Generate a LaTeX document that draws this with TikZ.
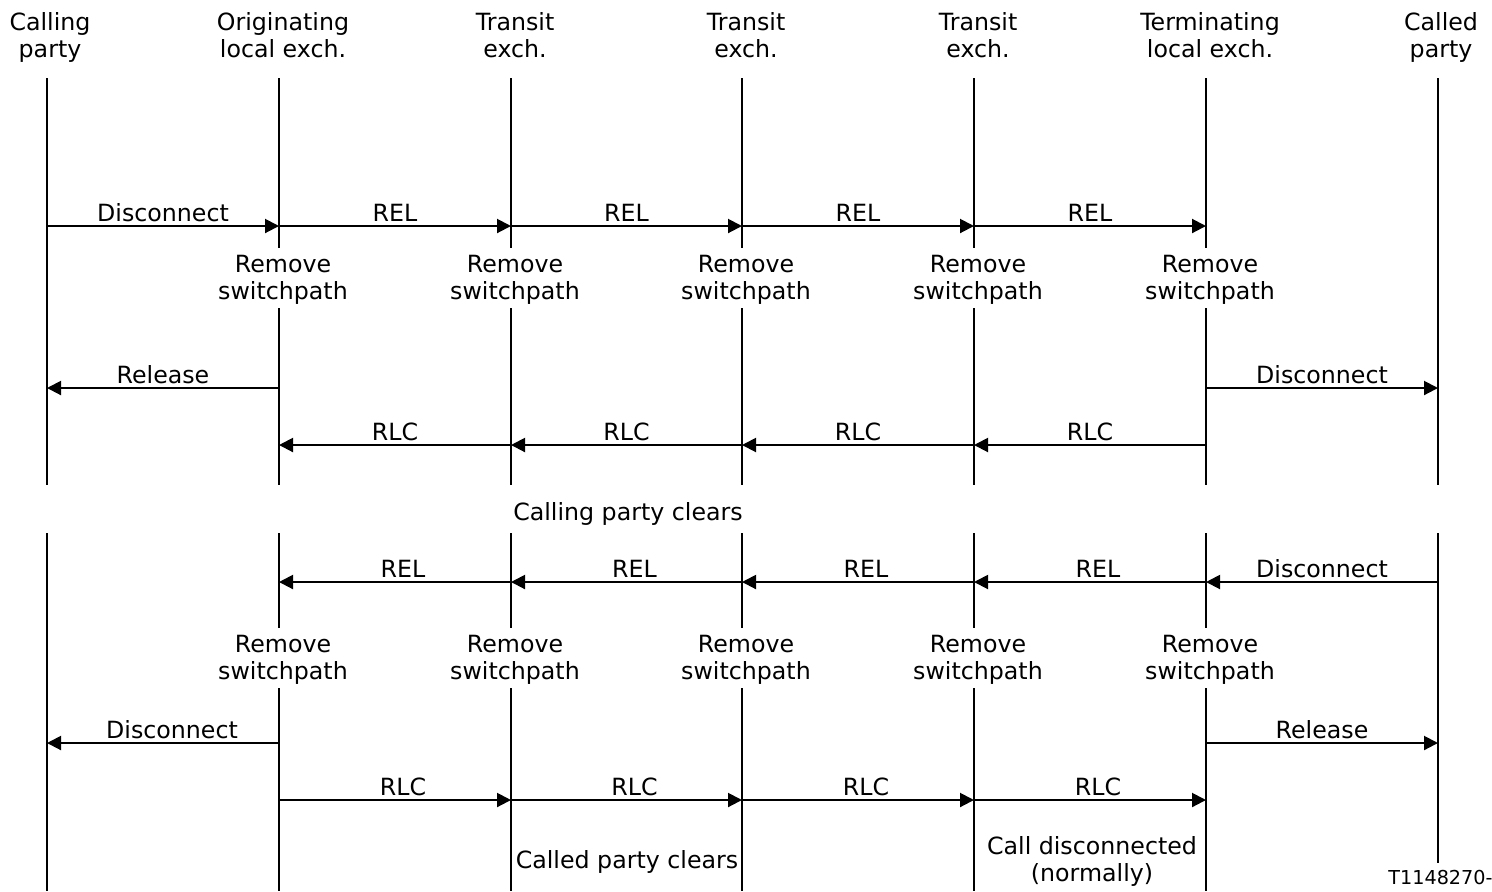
\documentclass[tikz,border=0pt]{standalone}
\usepackage{fontspec}
\setmainfont{DejaVu Sans}
\usetikzlibrary{arrows.meta}
\begin{document}
\begin{tikzpicture}[x=0.5pt,y=-0.5pt,
  life/.style={line width=1pt},
  msg/.style={line width=1pt,-{Triangle[length=7pt,width=7pt]}},
  txt/.style={font=\fontsize{11.85}{13.6}\selectfont,inner sep=0pt,align=center},
  lbl/.style={txt,anchor=base},
  msglbl/.style={txt,above=2.5pt,anchor=base},
  head/.style={txt,anchor=base},
  tag/.style={font=\fontsize{9.6}{11}\selectfont,inner sep=0pt,anchor=base west}]
\useasboundingbox (0,0) rectangle (1492,891);

% lifeline positions
\foreach \x [count=\i from 0] in {47,279,511,742,974,1206,1438}
  \coordinate (L\i) at (\x,0);
% message rows
\foreach \y [count=\j] in {226,388,445,582,743,800}
  \coordinate (r\j) at (0,\y);

% column headings
\node[head] (h0) at ([xshift=1.5pt]L0|-0,30) {Calling};
\node[head] (h0b) at ([xshift=1.5pt]L0|-0,57) {party};
\node[head] (h1) at ([xshift=2pt]L1|-0,30) {Originating};
\node[head] (h1b) at ([xshift=2pt]L1|-0,57) {local exch.};
\foreach \i in {2,3,4}{
  \node[head] (h\i) at ([xshift=2pt]L\i|-0,30) {Transit};
  \node[head] (h\i b) at ([xshift=2pt]L\i|-0,57) {exch.};
}
\node[head] (h5) at ([xshift=2pt]L5|-0,30) {Terminating};
\node[head] (h5b) at ([xshift=2pt]L5|-0,57) {local exch.};
\node[head] (h6) at ([xshift=1.5pt]L6|-0,30) {Called};
\node[head] (h6b) at ([xshift=1.5pt]L6|-0,57) {party};

% lifelines, upper part
\draw[life] (L0|-0,78) -- (L0|-0,485);
\draw[life] (L6|-0,78) -- (L6|-0,485);
\foreach \i in {1,...,5}{
  \draw[life] (L\i|-0,78) -- (L\i|-0,248);
  \draw[life] (L\i|-0,308) -- (L\i|-0,485);
  \node[lbl] (ru\i) at ([xshift=2pt]L\i|-0,272) {Remove};
  \node[lbl] (rv\i) at ([xshift=2pt]L\i|-0,299) {switchpath};
}
% lifelines, lower part
\draw[life] (L0|-0,533) -- (L0|-0,891);
\draw[life] (L6|-0,533) -- (L6|-0,863);
\foreach \i in {1,...,5}{
  \draw[life] (L\i|-0,533) -- (L\i|-0,628);
  \draw[life] (L\i|-0,688) -- (L\i|-0,891);
  \node[lbl] (rl\i) at ([xshift=2pt]L\i|-0,652) {Remove};
  \node[lbl] (rm\i) at ([xshift=2pt]L\i|-0,679) {switchpath};
}

% calling party clears
\draw[msg] (L0|-r1) -- node[msglbl] (m1) {Disconnect} (L1|-r1);
\foreach \i [evaluate=\i as \k using int(\i+1)] in {1,...,4}
  \draw[msg] (L\i|-r1) -- node[msglbl] {REL} (L\k|-r1);
\draw[msg] (L1|-r2) -- node[msglbl] (m2) {Release} (L0|-r2);
\draw[msg] (L5|-r2) -- node[msglbl] (m3) {Disconnect} (L6|-r2);
\foreach \i [evaluate=\i as \k using int(\i-1)] in {5,4,3,2}
  \draw[msg] (L\i|-r3) -- node[msglbl] {RLC} (L\k|-r3);
\node[lbl] (c1) at (628,520) {Calling party clears};

% called party clears
\draw[msg] (L6|-r4) -- node[msglbl] (m4) {Disconnect} (L5|-r4);
\foreach \i [evaluate=\i as \k using int(\i-1)] in {5,4,3,2}
  \draw[msg] (L\i|-r4) -- node[msglbl,xshift=4pt] {REL} (L\k|-r4);
\draw[msg] (L1|-r5) -- node[msglbl,xshift=4.5pt] (m5) {Disconnect} (L0|-r5);
\draw[msg] (L5|-r5) -- node[msglbl] (m6) {Release} (L6|-r5);
\foreach \i [evaluate=\i as \k using int(\i+1)] in {1,...,4}
  \draw[msg] (L\i|-r6) -- node[msglbl,xshift=4pt] {RLC} (L\k|-r6);
\node[lbl] (c2) at (627,868) {Called party clears};
\node[lbl] (c3) at (1092,854) {Call disconnected};
\node[lbl] (c4) at (1092,881) {(normally)};

\node[tag] (fig) at (1388,884) {T1148270-};
\end{tikzpicture}
\end{document}
